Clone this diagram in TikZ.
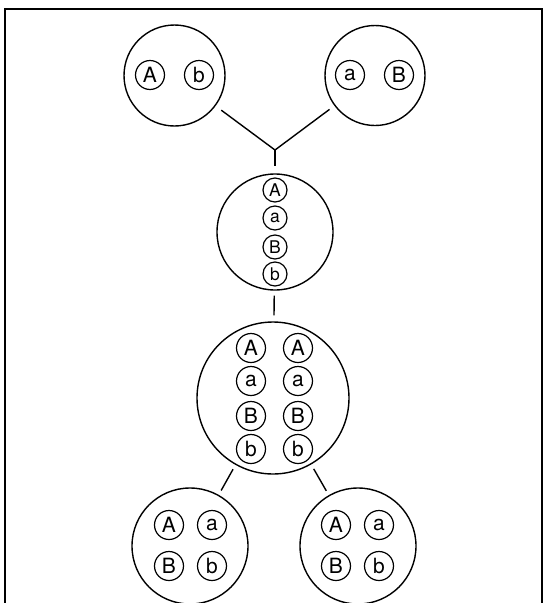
\documentclass[tikz,border=0pt]{standalone}
\usepackage{fontspec}
\setmainfont{TeX Gyre Heros}
\begin{document}
\begin{tikzpicture}[x=1pt,y=-1pt,
  big/.style={circle,draw,line width=1.4pt,inner sep=0pt},
  gene/.style={circle,draw,line width=1.2pt,inner sep=0pt,minimum size=29pt,font=\fontsize{21}{21}\selectfont},
  genesm/.style={gene,minimum size=24pt,font=\fontsize{17.5}{17.5}\selectfont},
  link/.style={line width=1.4pt}]
\useasboundingbox (0,0) rectangle (544,603);
\draw[line width=1.2pt] (5,603) -- (5,9) -- (542,9) -- (542,603);
% parents
\node[big,minimum size=101pt] (p1) at (174.5,75.5) {};
\node[gene] (p1A) at (150,75) {A};
\node[gene] (p1b) at (199,75) {b};
\node[big,minimum size=100pt] (p2) at (375,75.5) {};
\node[gene] (p2a) at (350,75) {a};
\node[gene] (p2B) at (399,75) {B};
% junction
\coordinate (J) at (275,150);
\coordinate (Jd) at (275,166);
\draw[link,shorten <=7pt] (p1) -- (J);
\draw[link,shorten <=6pt] (p2) -- (J);
\draw[link] (J) -- (Jd);
% hybrid
\node[big,minimum size=116pt] (h) at (275,232) {};
\node[genesm] (hA) at (275,190) {A};
\node[genesm] (ha) at (275,218) {a};
\node[genesm] (hB) at (275,247) {B};
\node[genesm] (hb) at (275,274) {b};
% doubled
\node[big,minimum size=152pt] (d) at (273,398) {};
\draw[link,shorten <=5pt,shorten >=6pt] (h) -- (d);
\node[gene] (dA1) at (251,348) {A};
\node[gene] (da1) at (251,381) {a};
\node[gene] (dB1) at (251,416) {B};
\node[gene] (db1) at (251,449) {b};
\node[gene] (dA2) at (298,348) {A};
\node[gene] (da2) at (298,381) {a};
\node[gene] (dB2) at (298,416) {B};
\node[gene] (db2) at (298,449) {b};
% gametes
\node[big,minimum size=116pt] (g1) at (190,546) {};
\node[gene] (g1A) at (169,525) {A};
\node[gene] (g1a) at (212,525) {a};
\node[gene] (g1B) at (169,566) {B};
\node[gene] (g1b) at (212,566) {b};
\node[big,minimum size=116pt] (g2) at (358,546) {};
\node[gene] (g2A) at (336,525) {A};
\node[gene] (g2a) at (379,525) {a};
\node[gene] (g2B) at (336,566) {B};
\node[gene] (g2b) at (379,566) {b};
\draw[link,shorten <=5pt,shorten >=5pt] (d) -- (g1);
\draw[link,shorten <=5pt,shorten >=5pt] (d) -- (g2);
\end{tikzpicture}
\end{document}
